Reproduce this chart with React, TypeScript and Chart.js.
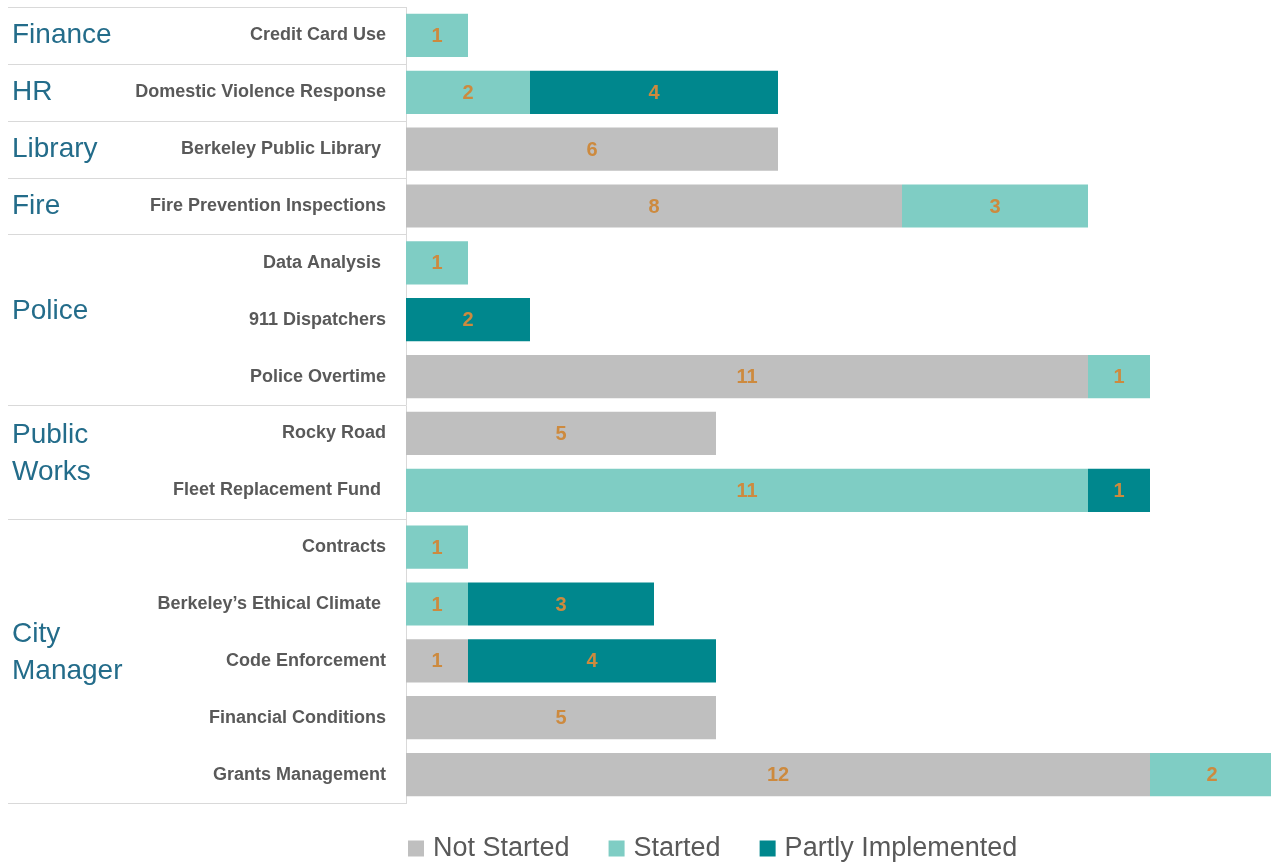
import React, { useEffect, useRef } from "react";
import { Chart, registerables } from "chart.js";

Chart.register(...registerables);

const categories = [
  "Credit Card Use",
  "Domestic Violence Response",
  "Berkeley Public Library ",
  "Fire Prevention Inspections",
  "Data Analysis ",
  "911 Dispatchers",
  "Police Overtime",
  "Rocky Road",
  "Fleet Replacement Fund ",
  "Contracts",
  "Berkeley\u2019s Ethical Climate ",
  "Code Enforcement",
  "Financial Conditions",
  "Grants Management",
];

const notStarted = [0, 0, 6, 8, 0, 0, 11, 5, 0, 0, 0, 1, 5, 12];
const started = [1, 2, 0, 3, 1, 0, 1, 0, 11, 1, 1, 0, 0, 2];
const partlyImplemented = [0, 4, 0, 0, 0, 2, 0, 0, 1, 0, 3, 4, 0, 0];

const seriesNames = ["Not Started", "Started", "Partly Implemented"];
const seriesColors = ["#BFBFBF", "#7FCDC4", "#00878D"];

const groupNames = [["Finance"], ["HR"], ["Library"], ["Fire"], ["Police"], ["Public", "Works"], ["City", "Manager"]];
const groupRows = [1, 1, 1, 1, 3, 2, 5];

const FONT = "'Liberation Sans', Arial, sans-serif";
const NARROW = "'Liberation Sans Narrow', 'Arial Narrow', 'Liberation Sans', sans-serif";

const groupPlugin = {
  id: "groupLabels",
  afterDraw(chart: any) {
    const ctx = chart.ctx;
    const { top, bottom, left } = chart.chartArea;
    const n = categories.length;
    const rowH = (bottom - top) / n;
    ctx.save();
    // separators
    ctx.strokeStyle = "#D9D9D9";
    ctx.lineWidth = 1;
    let start = 0;
    const bounds = [0];
    groupRows.forEach((r) => {
      start += r;
      bounds.push(start);
    });
    bounds.forEach((b) => {
      const y = Math.round(top + b * rowH) + 0.5;
      ctx.beginPath();
      ctx.moveTo(8, y);
      ctx.lineTo(left, y);
      ctx.stroke();
    });
    // group labels
    ctx.fillStyle = "#236C8A";
    ctx.font = `28px ${FONT}`;
    ctx.textAlign = "left";
    ctx.textBaseline = "middle";
    let s = 0;
    groupNames.forEach((lines, i) => {
      const rows = groupRows[i];
      const center = top + (s + rows / 2) * rowH + (rows > 1 ? -8 : 0);
      const lh = 37;
      lines.forEach((line, j) => {
        const y = center + (j - (lines.length - 1) / 2) * lh;
        ctx.fillText(line, 12, y);
      });
      s += rows;
    });
    // data labels
    ctx.fillStyle = "#CD8A3E";
    ctx.font = `bold 20px ${NARROW}`;
    ctx.textAlign = "center";
    chart.data.datasets.forEach((ds: any, di: number) => {
      const meta = chart.getDatasetMeta(di);
      meta.data.forEach((el: any, idx: number) => {
        const v = ds.data[idx];
        if (!v) return;
        ctx.fillText(String(v), (el.x + el.base) / 2, el.y + 1);
      });
    });
    // legend
    ctx.font = `27px ${FONT}`;
    ctx.textAlign = "left";
    let x = 408;
    const yc = 848.5;
    chart.data.datasets.forEach((ds: any) => {
      ctx.fillStyle = ds.backgroundColor;
      ctx.fillRect(x, yc - 8, 16, 16);
      x += 25;
      ctx.fillStyle = "#595959";
      ctx.fillText(ds.label, x, yc);
      x += ctx.measureText(ds.label).width + 39;
    });
    ctx.restore();
  },
};

export default function App() {
  const ref = useRef<HTMLCanvasElement | null>(null);
  useEffect(() => {
    document.body.style.margin = "0";
    document.body.style.overflow = "hidden";
    const values = [notStarted, started, partlyImplemented];
    const chart = new Chart(ref.current as HTMLCanvasElement, {
      type: "bar",
      data: {
        labels: categories,
        datasets: seriesNames.map((name, i) => ({
          label: name,
          data: values[i],
          backgroundColor: seriesColors[i],
          borderWidth: 0,
          categoryPercentage: 1,
          barPercentage: 0.76,
        })),
      },
      options: {
        indexAxis: "y",
        animation: false,
        responsive: true,
        maintainAspectRatio: false,
        layout: { padding: { top: 7, bottom: 61, right: 1, left: 0 } },
        plugins: {
          legend: { display: false },
          tooltip: { enabled: false },
          title: { display: false },
        },
        scales: {
          x: {
            stacked: true,
            display: false,
            min: 0,
            max: 14,
          },
          y: {
            stacked: true,
            grid: { display: false, drawTicks: false },
            border: { display: true, color: "#D9D9D9", width: 1 },
            ticks: {
              color: "#595959",
              font: { family: FONT, size: 18, weight: "bold" },
              padding: 20,
              autoSkip: false,
            },
            afterFit(scale: any) {
              scale.width = 406;
              scale.paddingTop = 0;
              scale.paddingBottom = 0;
            },
          },
        },
      },
      plugins: [groupPlugin],
    } as any);
    return () => chart.destroy();
  }, []);
  return (
    <div style={{ width: 1275, height: 864, position: "relative" }}>
      <canvas ref={ref} />
    </div>
  );
}
